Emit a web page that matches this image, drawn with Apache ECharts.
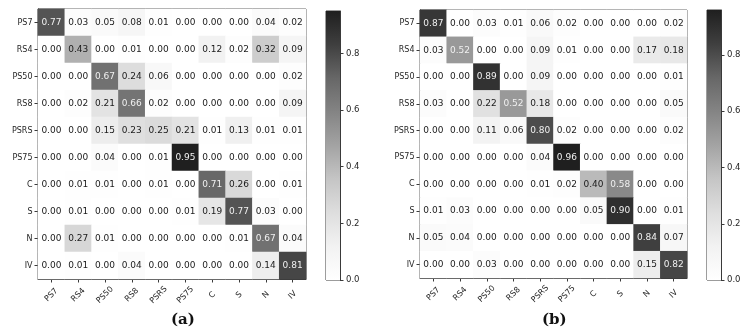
<!DOCTYPE html>
<html>
<head>
<meta charset="utf-8">
<script src="https://cdn.jsdelivr.net/npm/echarts@6/dist/echarts.min.js"></script>
<style>html,body{margin:0;padding:0;background:#fff}#c{width:744px;height:335px}</style>
</head>
<body>
<div id="c"></div>
<script>
const classes = ['PS7','RS4','PS50','RS8','PSRS','PS75','C','S','N','IV'];
const matrixA = [
  [0.77,0.03,0.05,0.08,0.01,0.00,0.00,0.00,0.04,0.02],
  [0.00,0.43,0.00,0.01,0.00,0.00,0.12,0.02,0.32,0.09],
  [0.00,0.00,0.67,0.24,0.06,0.00,0.00,0.00,0.00,0.02],
  [0.00,0.02,0.21,0.66,0.02,0.00,0.00,0.00,0.00,0.09],
  [0.00,0.00,0.15,0.23,0.25,0.21,0.01,0.13,0.01,0.01],
  [0.00,0.00,0.04,0.00,0.01,0.95,0.00,0.00,0.00,0.00],
  [0.00,0.01,0.01,0.00,0.01,0.00,0.71,0.26,0.00,0.01],
  [0.00,0.01,0.00,0.00,0.00,0.01,0.19,0.77,0.03,0.00],
  [0.00,0.27,0.01,0.00,0.00,0.00,0.00,0.01,0.67,0.04],
  [0.00,0.01,0.00,0.04,0.00,0.00,0.00,0.00,0.14,0.81]
];
const matrixB = [
  [0.87,0.00,0.03,0.01,0.06,0.02,0.00,0.00,0.00,0.02],
  [0.03,0.52,0.00,0.00,0.09,0.01,0.00,0.00,0.17,0.18],
  [0.00,0.00,0.89,0.00,0.09,0.00,0.00,0.00,0.00,0.01],
  [0.03,0.00,0.22,0.52,0.18,0.00,0.00,0.00,0.00,0.05],
  [0.00,0.00,0.11,0.06,0.80,0.02,0.00,0.00,0.00,0.02],
  [0.00,0.00,0.00,0.00,0.04,0.96,0.00,0.00,0.00,0.00],
  [0.00,0.00,0.00,0.00,0.01,0.02,0.40,0.58,0.00,0.00],
  [0.01,0.03,0.00,0.00,0.00,0.00,0.05,0.90,0.00,0.01],
  [0.05,0.04,0.00,0.00,0.00,0.00,0.00,0.00,0.84,0.07],
  [0.00,0.00,0.03,0.00,0.00,0.00,0.00,0.00,0.15,0.82]
];
const colorbarTicks = [0, 0.2, 0.4, 0.6, 0.8];
const captions = ['(a)', '(b)'];

const greys = ['#ffffff','#f2f2f2','#dedede','#c5c5c5','#a3a3a3','#848484','#676767','#3f3f3f','#1f1f1f'];
const FONT = 'DejaVu Sans';
const AXFS = 8;
const vmaxA = Math.max(...matrixA.flat());
const vmaxB = Math.max(...matrixB.flat());

function cells(m, vmax) {
  const out = [];
  m.forEach((row, r) => row.forEach((v, c) => {
    out.push({ value: [c, r, v], label: { color: v > vmax / 2 ? '#f0f0f0' : '#1a1a1a' } });
  }));
  return out;
}

const grids = [
  { left: 38, top: 9, width: 268, height: 270 },
  { left: 420, top: 10, width: 267, height: 268 },
  { left: 326, top: 11, width: 14, height: 269 },
  { left: 707, top: 10, width: 14, height: 270 }
].map(g => Object.assign({ show: true, borderColor: '#3a3a3a', borderWidth: 1, backgroundColor: 'transparent' }, g));

function hmX(i) {
  return {
    type: 'category', gridIndex: i, data: classes, position: 'bottom',
    axisLine: { show: true, lineStyle: { color: '#3a3a3a', width: 1 } },
    axisTick: { show: true, alignWithLabel: true, length: 3.5, lineStyle: { color: '#3a3a3a' } },
    axisLabel: { rotate: 45, align: 'center', verticalAlign: 'middle', margin: 16,
      fontFamily: FONT, fontSize: AXFS, color: '#262626', interval: 0 },
    splitLine: { show: false }
  };
}
function hmY(i) {
  return {
    type: 'category', gridIndex: i, data: classes, inverse: true,
    axisLine: { show: true, lineStyle: { color: '#3a3a3a', width: 1 } },
    axisTick: { show: true, alignWithLabel: true, length: 3.5, lineStyle: { color: '#3a3a3a' } },
    axisLabel: { margin: 5.5, fontFamily: FONT, fontSize: AXFS, color: '#262626', interval: 0 },
    splitLine: { show: false }
  };
}
function cbX(i) {
  return { type: 'category', gridIndex: i, data: ['cb'], show: false };
}
function cbY(i, vmax) {
  return {
    type: 'value', gridIndex: i, min: 0, max: vmax, position: 'right',
    axisLine: { show: true, lineStyle: { color: '#3a3a3a', width: 1 } },
    axisTick: { show: true, length: 3.5, customValues: colorbarTicks, lineStyle: { color: '#3a3a3a' } },
    axisLabel: { margin: 6, fontFamily: FONT, fontSize: 8.5, color: '#262626', customValues: colorbarTicks,
      formatter: v => v.toFixed(1) },
    splitLine: { show: false }
  };
}
function gradient() {
  return new echarts.graphic.LinearGradient(0, 1, 0, 0,
    greys.map((c, i) => ({ offset: i / (greys.length - 1), color: c })));
}
function heat(i, m, vmax) {
  return {
    type: 'heatmap', xAxisIndex: i, yAxisIndex: i, data: cells(m, vmax),
    label: { show: true, fontFamily: FONT, fontSize: 9, formatter: p => p.value[2].toFixed(2) },
    itemStyle: { borderWidth: 0 },
    emphasis: { disabled: true }
  };
}

const chart = echarts.init(document.getElementById('c'), null, { renderer: 'canvas' });
chart.setOption({
  animation: false,
  backgroundColor: '#fff',
  grid: grids,
  xAxis: [hmX(0), hmX(1), cbX(2), cbX(3)],
  yAxis: [hmY(0), hmY(1), cbY(2, vmaxA), cbY(3, vmaxB)],
  visualMap: [
    { type: 'continuous', show: false, seriesIndex: 0, dimension: 2, min: 0, max: vmaxA, inRange: { color: greys } },
    { type: 'continuous', show: false, seriesIndex: 1, dimension: 2, min: 0, max: vmaxB, inRange: { color: greys } }
  ],
  series: [
    heat(0, matrixA, vmaxA),
    heat(1, matrixB, vmaxB),
    { type: 'bar', xAxisIndex: 2, yAxisIndex: 2, data: [vmaxA], barWidth: '100%', itemStyle: { color: gradient() }, silent: true },
    { type: 'bar', xAxisIndex: 3, yAxisIndex: 3, data: [vmaxB], barWidth: '100%', itemStyle: { color: gradient() }, silent: true }
  ],
  graphic: [
    { type: 'text', left: 171, top: 313, style: { text: captions[0], fontFamily: 'DejaVu Serif', fontWeight: 'bold', fontSize: 15, fill: '#111' } },
    { type: 'text', left: 542, top: 313, style: { text: captions[1], fontFamily: 'DejaVu Serif', fontWeight: 'bold', fontSize: 15, fill: '#111' } }
  ]
});
</script>
</body>
</html>
